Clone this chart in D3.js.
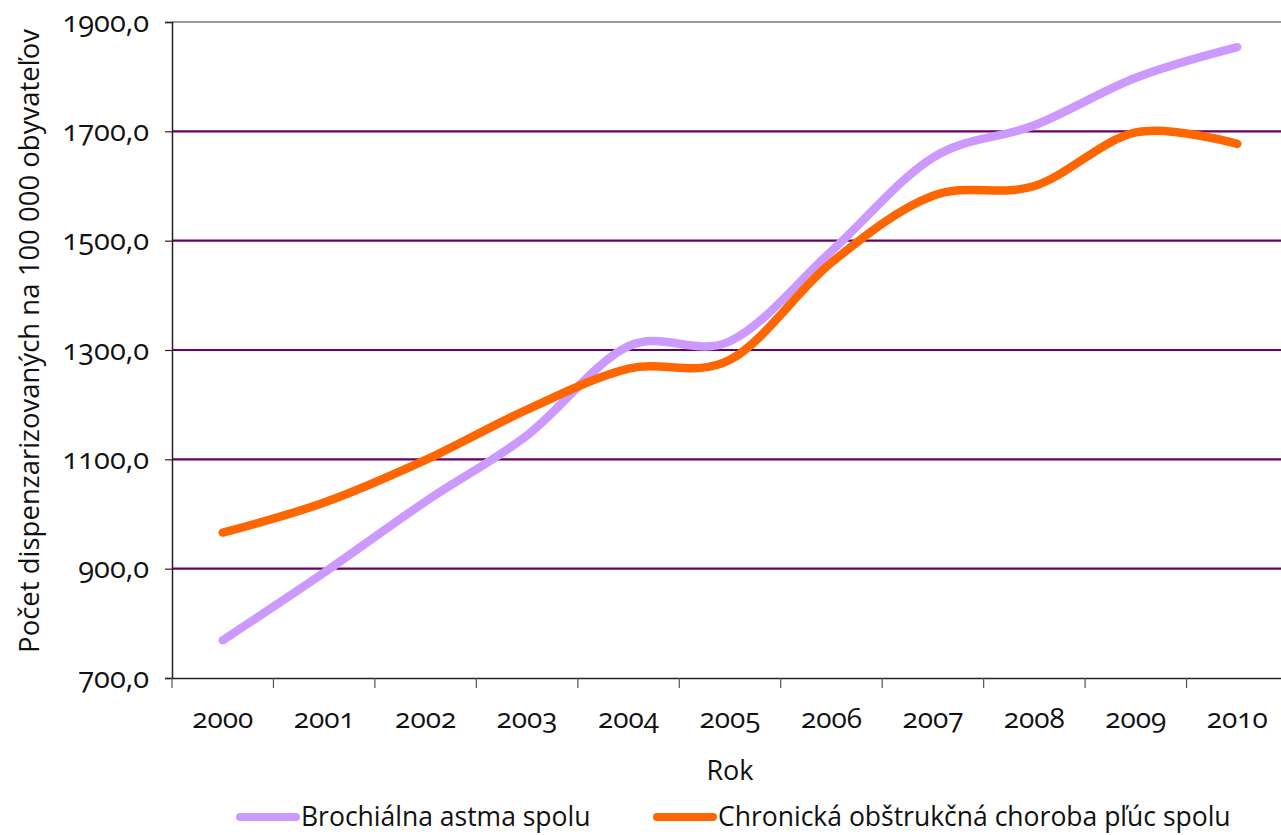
<!DOCTYPE html>
<html>
<head>
<meta charset="utf-8">
<script src="https://cdn.jsdelivr.net/npm/d3@7"></script>
<style>
  body { margin: 0; background: #fff; }
  svg text { font-family: "Open Sans", sans-serif; fill: #111; }
  .num { font-variant-numeric: oldstyle-nums; font-feature-settings: "onum" 1; }
</style>
</head>
<body>
<svg id="chart" width="1281" height="835"></svg>
<script>
// Data
const years = ["2000", "2001", "2002", "2003", "2004", "2005", "2006", "2007", "2008", "2009", "2010"];
const astma = [769, 893, 1023, 1144, 1307, 1316, 1481, 1652, 1711, 1798, 1854];
const chopn = [966, 1021, 1099, 1191, 1266, 1282, 1460, 1582, 1600, 1698, 1677];
const yTicks = [700, 900, 1100, 1300, 1500, 1700, 1900];
const seriesNames = ["Brochiálna astma spolu", "Chronická obštrukčná choroba pľúc spolu"];
const seriesColors = ["#CC99FF", "#FF6600"];

const svg = d3.select("#chart");
const plot = { left: 172, right: 1288, top: 22, bottom: 678 };

const x = d3.scaleBand().domain(years).range([plot.left, plot.right]);
const y = d3.scaleLinear().domain([700, 1900]).range([plot.bottom, plot.top]);

// gridlines
svg.append("g").selectAll("line")
  .data(yTicks.filter(d => d > 700))
  .join("line")
  .attr("x1", plot.left).attr("x2", 1281)
  .attr("y1", d => y(d)).attr("y2", d => y(d))
  .attr("stroke", d => d === 1900 ? "#9a9a9a" : "#660066")
  .attr("stroke-width", 2.2);

// y axis
const yAxis = svg.append("g")
  .attr("transform", "translate(" + plot.left + ",0)")
  .call(d3.axisLeft(y).tickValues(yTicks).tickSize(7).tickPadding(16)
    .tickFormat(d => d3.format(".1f")(d).replace(".", ",")));
yAxis.select(".domain").attr("stroke", "#222").attr("stroke-width", 1.5);
yAxis.selectAll(".tick line").attr("stroke", "#222").attr("stroke-width", 1.2);
yAxis.selectAll(".tick text")
  .attr("class", "num")
  .style("font-size", "29px")
  .attr("dy", "0.32em");

// x axis
const xAxis = svg.append("g")
  .attr("transform", "translate(0," + plot.bottom + ")")
  .call(d3.axisBottom(x).tickSize(0).tickPadding(30));
xAxis.select(".domain").attr("stroke", "#222").attr("stroke-width", 1.5);
xAxis.selectAll(".tick text")
  .attr("class", "num")
  .style("font-size", "28px");
// category boundary ticks
xAxis.append("g").selectAll("line")
  .data(years)
  .join("line")
  .attr("x1", d => x(d)).attr("x2", d => x(d))
  .attr("y1", 0).attr("y2", 10)
  .attr("stroke", "#555").attr("stroke-width", 1.2);

// axis titles
svg.append("text")
  .attr("x", 730).attr("y", 780)
  .attr("text-anchor", "middle")
  .style("font-size", "27px")
  .text("Rok");

svg.append("text")
  .attr("transform", "translate(39,341) rotate(-90)")
  .attr("text-anchor", "middle")
  .style("font-size", "27.5px")
  .text("Počet dispenzarizovaných na 100 000 obyvateľov");

// lines
const line = d3.line()
  .x((d, i) => x(years[i]) + x.bandwidth() / 2)
  .y(d => y(d))
  .curve(d3.curveCatmullRom.alpha(0));

[astma, chopn].forEach((s, i) => {
  svg.append("path")
    .datum(s)
    .attr("d", line)
    .attr("fill", "none")
    .attr("stroke", seriesColors[i])
    .attr("stroke-width", 8.5)
    .attr("stroke-linecap", "round")
    .attr("stroke-linejoin", "round");
});

// legend
const legendX = [240, 657];
const legend = svg.append("g").selectAll("g")
  .data(seriesNames)
  .join("g")
  .attr("transform", (d, i) => "translate(" + legendX[i] + ",817)");
legend.append("line")
  .attr("x1", 0).attr("x2", 56)
  .attr("stroke", (d, i) => seriesColors[i])
  .attr("stroke-width", 8)
  .attr("stroke-linecap", "round");
legend.append("text")
  .attr("x", 61).attr("dy", "0.35em")
  .style("font-size", "26.5px")
  .text(d => d);
</script>
</body>
</html>
